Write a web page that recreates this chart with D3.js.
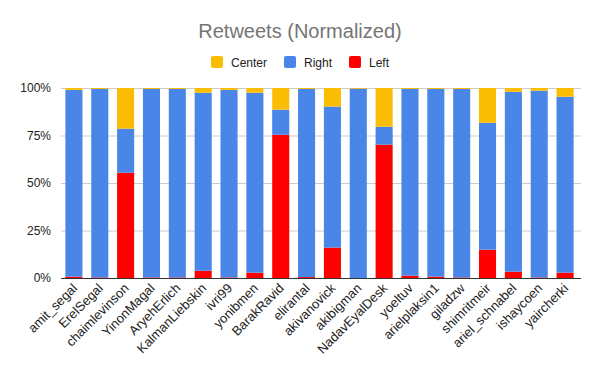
<!DOCTYPE html>
<html><head><meta charset="utf-8">
<script src="https://cdn.jsdelivr.net/npm/d3@7"></script>
<style>body{margin:0;background:#fff}svg{display:block}</style>
</head><body>
<svg id="c" width="600" height="371"></svg>
<script>
const categories = ["amit_segal","ErelSegal","chaimlevinson","YinonMagal","AryehErlich","KalmanLiebskin","ivri99","yonibmen","BarakRavid","elirantal","akivanovick","akibigman","NadavEyalDesk","yoeltuv","arielplaksin1","giladzw","shimritmeir","ariel_schnabel","ishaycoen","yaircherki"];
const leftVals   = [0.7, 0.3, 55.4, 0.3, 0.3, 3.8, 0.3, 2.8, 75.4, 0.5, 16.0, 0.0, 70.2, 1.2, 0.7, 0.3, 14.9, 3.3, 0.3, 2.8];
const rightVals  = [98.3, 99.2, 23.2, 99.2, 99.2, 93.7, 98.7, 94.7, 13.2, 99.0, 74.2, 99.6, 9.4, 98.3, 98.8, 99.2, 66.8, 94.7, 98.3, 92.6];
const centerVals = [1.0, 0.5, 21.4, 0.5, 0.5, 2.5, 1.0, 2.5, 11.4, 0.5, 9.8, 0.4, 20.4, 0.5, 0.5, 0.5, 18.3, 2.0, 1.4, 4.6];
const seriesNames = ["Left","Right","Center"];
const seriesColors = ["#ff0000","#4a86e8","#fbbc04"];
const yTicks = [0, 0.25, 0.5, 0.75, 1];

const rows = categories.map((c,i)=>{
  const t = leftVals[i]+rightVals[i]+centerVals[i];
  return {cat:c, Left:leftVals[i]/t, Right:rightVals[i]/t, Center:centerVals[i]/t};
});
const svg = d3.select("#c");
const x = d3.scaleBand().domain(categories).range([61,578]).paddingInner(0.34).paddingOuter(0.17);
const y = d3.scaleLinear().domain([0,1]).range([278,88]);
const color = d3.scaleOrdinal().domain(seriesNames).range(seriesColors);

// gridlines
svg.append("g").selectAll("line").data(yTicks).join("line")
  .attr("x1",61).attr("x2",581).attr("y1",d=>y(d)+0.5).attr("y2",d=>y(d)+0.5)
  .attr("stroke","#cccccc").attr("stroke-width",1);
svg.append("g").selectAll("text").data(yTicks).join("text")
  .attr("x",51).attr("y",d=>y(d)+4).attr("text-anchor","end")
  .attr("font-family","Arial, 'Liberation Sans', sans-serif").attr("font-size",12).attr("fill","#222")
  .text(d=>d3.format(".0%")(d));

const stack = d3.stack().keys(seriesNames)(rows);
svg.append("g").selectAll("g").data(stack).join("g").attr("fill",d=>color(d.key))
  .selectAll("rect").data(d=>d).join("rect")
  .attr("x",d=>x(d.data.cat)).attr("width",x.bandwidth())
  .attr("y",d=>y(d[1])).attr("height",d=>y(d[0])-y(d[1]));

svg.append("line").attr("x1",61).attr("x2",581).attr("y1",278.5).attr("y2",278.5).attr("stroke","#333").attr("stroke-width",1);

// x labels
svg.append("g").selectAll("text").data(categories).join("text")
  .attr("transform",d=>`translate(${x(d)+x.bandwidth()/2+4},${289}) rotate(-45)`)
  .attr("text-anchor","end")
  .attr("font-family","Arial, 'Liberation Sans', sans-serif").attr("font-size",13).attr("fill","#222")
  .text(d=>d);

// title
svg.append("text").attr("x",300).attr("y",38).attr("text-anchor","middle")
  .attr("font-family","Arial, 'Liberation Sans', sans-serif").attr("font-size",20).attr("fill","#757575")
  .text("Retweets (Normalized)");

// legend
const legendOrder = ["Center","Right","Left"];
const legendX = [211, 284, 349];
const lg = svg.append("g").selectAll("g").data(legendOrder).join("g")
  .attr("transform",(d,i)=>`translate(${legendX[i]},56)`);
lg.append("rect").attr("width",12).attr("height",12).attr("rx",2).attr("fill",d=>color(d));
lg.append("text").attr("x",20).attr("y",10.5)
  .attr("font-family","Arial, 'Liberation Sans', sans-serif").attr("font-size",12).attr("fill","#222")
  .text(d=>d);
</script>
</body></html>
